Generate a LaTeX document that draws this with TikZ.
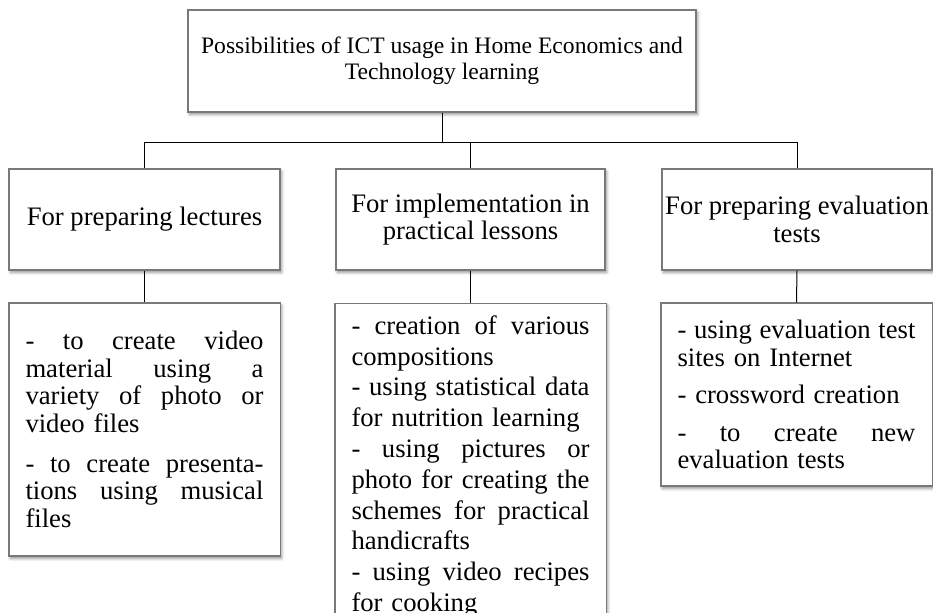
\documentclass[tikz,border=0pt]{standalone}
\usepackage{fontspec}
\setmainfont{Liberation Serif}
\usetikzlibrary{shadows.blur}

% width of the text column in a list box
\newlength\colw
\setlength\colw{178.5pt}
% one justified line (words split by \_) and one flush-left line of a list box
\newcommand\jl[1]{\hbox to\colw{\def\_{\hspace{0pt plus 1fill}}#1}}
\newcommand\fl[1]{\hbox{#1}}

\tikzset{
  box/.style={draw=gray!95!black, line width=0.8pt, fill=white, inner sep=0pt,
    blur shadow={shadow xshift=1.2pt, shadow yshift=-1.8pt,
                 shadow blur radius=2.2pt, shadow opacity=45}},
  headbox/.style={box, align=center, font=\fontsize{20}{20.5}\selectfont},
  listbox/.style={box, text width=\colw, inner xsep=12.4pt,
    font=\fontsize{20}{20.6}\selectfont},
  link/.style={draw=black, line width=0.75pt},
}

\begin{document}
\begin{tikzpicture}[x=0.75pt, y=-0.75pt]
\useasboundingbox (0,0) rectangle (933,613);

% top level
\node[headbox, minimum width=381pt, minimum height=76.5pt,
      font=\fontsize{17.7}{19.5}\selectfont] (top) at (442,61)
  {Possibilities of ICT usage in Home Economics and\\Technology learning};

% second level
\node[headbox, minimum width=203.25pt, minimum height=75.75pt] (lec) at (144.5,219.5)
  {For preparing lectures};
\node[headbox, minimum width=201.75pt, minimum height=75.75pt] (prac) at (470.5,219.5)
  {For implementation in\\practical lessons};
\node[headbox, minimum width=202.5pt, minimum height=75.75pt] (eval) at (797,219.5)
  {For preparing evaluation\\tests};

% third level
\node[listbox, minimum width=203.25pt, minimum height=189.75pt] (lecl) at (144.5,429.5)
  {\vbox{\jl{-\_to\_create\_video}\jl{material\_using\_a}\jl{variety\_of\_photo\_or}\fl{video files}%
   \vspace{9.5pt}%
   \jl{-\_to\_create\_presenta-}\jl{tions\_using\_musical}\fl{files}}};

\node[listbox, anchor=north, inner ysep=9pt, minimum width=201.75pt,
      font=\fontsize{20}{23.1}\selectfont] (pracl) at (470.5,303)
  {\vbox{\jl{-\_creation\_of\_various}\fl{compositions}%
   \jl{-\_using\_statistical\_data}\fl{for nutrition learning}%
   \jl{-\_using\_pictures\_or}\jl{photo\_for\_creating\_the}\jl{schemes\_for\_practical}\fl{handicrafts}%
   \jl{-\_using\_video\_recipes}\fl{for cooking}\vspace{40pt}}};

\node[listbox, minimum width=203.25pt, minimum height=137.25pt] (evall) at (796.5,394.5)
  {\vbox{\jl{-\_using\_evaluation\_test}\fl{sites on Internet}%
   \vspace{7.5pt}%
   \fl{- crossword creation}%
   \vspace{7.5pt}%
   \jl{-\_to\_create\_new}\fl{evaluation tests}}};

% connectors
\draw[link] (top.south) -- ++(0,30) coordinate (bus);
\draw[link] (lec.north) |- (bus) -| (eval.north);
\draw[link] (prac.north) -- (prac.north |- bus);
\draw[link] (lec.south) -- (lecl.north);
\draw[link] (prac.south) -- (pracl.north);
\draw[link] (eval.south) -- (evall.north);
\end{tikzpicture}
\end{document}
